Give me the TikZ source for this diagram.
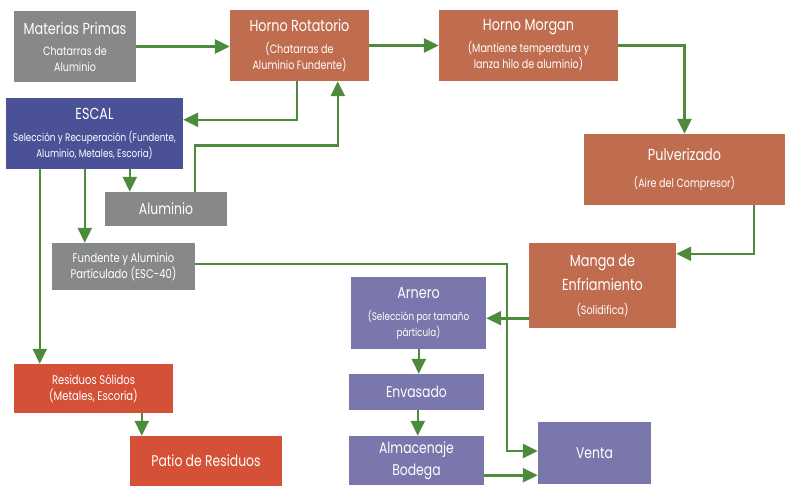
\documentclass[tikz,border=0pt]{standalone}
\usepackage{fontspec}
\setmainfont[FakeStretch=0.8]{Poppins}
\usetikzlibrary{arrows.meta,calc}
\definecolor{cgray}{HTML}{87888A}
\definecolor{corange}{HTML}{C06D4F}
\definecolor{cblue}{HTML}{4A5196}
\definecolor{cpurple}{HTML}{7977AB}
\definecolor{cred}{HTML}{D45138}
\definecolor{cgreen}{HTML}{4E8A3B}
\newcommand\tsz{\fontsize{16}{16}\selectfont}
\newcommand\bsz{\fontsize{15.5}{16}\selectfont}
\newcommand\ssz{\fontsize{12}{16}\selectfont}
\newcommand\esz{\fontsize{11}{16}\selectfont}
\newcommand\msz{\fontsize{12.5}{16}\selectfont}
\tikzset{
  box/.style={rectangle, inner sep=0pt, text=white, align=center, fill=#1,
    font=\fontsize{12}{16}\selectfont},
  arr/.style={draw=cgreen, line width=2.6pt, -{Triangle[length=15pt,width=14pt]}},
}
\begin{document}
\begin{tikzpicture}[x=1pt,y=-1pt]
\path[use as bounding box, fill=white] (0,0) rectangle (798,495);
% nodes
\node[box=cgray, minimum width=122pt, minimum height=71pt] (mp) at (75,46.5)
  {{\tsz Materias Primas}\\[5pt]{\ssz Chatarras de}\\{\ssz Aluminio}};
\node[box=corange, minimum width=139pt, minimum height=71pt] (hr) at (299.5,45.5)
  {{\tsz Horno Rotatorio}\\[6pt]{\ssz (Chatarras de}\\{\ssz Aluminio Fundente)}};
\node[box=corange, minimum width=179pt, minimum height=71pt] (hm) at (528.5,45.5)
  {{\tsz Horno Morgan}\\[6pt]{\ssz (Mantiene temperatura y}\\{\ssz lanza hilo de aluminio)}};
\node[box=corange, minimum width=201pt, minimum height=71pt] (pu) at (684.5,169.5)
  {{\tsz Pulverizado}\\[11pt]{\ssz (Aire del Compresor)}};
\node[box=cblue, minimum width=177pt, minimum height=71pt] (es) at (94.5,133.5)
  {{\tsz ESCAL}\\[6pt]{\esz Selección y Recuperación (Fundente,}\\{\esz Aluminio, Metales, Escoria)}};
\node[box=cgray, minimum width=122pt, minimum height=34pt] (al) at (166,209)
  {\bsz Aluminio};
\node[box=cgray, minimum width=143pt, minimum height=47pt] (fu) at (123.5,266.5)
  {{\msz Fundente y Aluminio}\\{\msz Partículado (ESC-40)}};
\node[box=cred, minimum width=159pt, minimum height=49pt] (rs) at (93.5,388.5)
  {{\msz Residuos Sólidos}\\{\msz (Metales, Escoria)}};
\node[box=cred, minimum width=152pt, minimum height=50pt] (pa) at (206,461)
  {\bsz Patio de Residuos};
\node[box=corange, minimum width=147pt, minimum height=85pt] (ma) at (602.5,285.5)
  {{\tsz Manga de}\\[6pt]{\tsz Enfriamiento}\\[8pt]{\ssz (Solidifica)}};
\node[box=cpurple, minimum width=135pt, minimum height=72pt] (ar) at (418.5,313)
  {{\tsz Arnero}\\[6pt]{\esz (Selección por tamaño}\\{\esz párticula)}};
\node[box=cpurple, minimum width=135pt, minimum height=36pt] (en) at (416.5,392)
  {\bsz Envasado};
\node[box=cpurple, minimum width=135pt, minimum height=49pt] (am) at (416.5,460.5)
  {{\bsz Almacenaje}\\[6pt]{\bsz Bodega}};
\node[box=cpurple, minimum width=113pt, minimum height=62pt] (ve) at (594.5,453)
  {\bsz Venta};
% connectors
\draw[arr] (mp.east) -- (mp.east -| hr.west);
\draw[arr] (hr.east) -- (hm.west);
\draw[arr] (hm.east) -| (pu.north);
\draw[arr] ($(pu.south)+(69.5,0)$) |- ($(ma.north east)+(0,11)$);
\draw[arr] ($(hr.south)+(-2.5,0)$) |- ($(es.north east)+(0,22)$);
\draw[arr] ($(al.north west)+(90,0)$) |- ($(hr.south west)+(108,64)$) -- ($(hr.south west)+(108,0)$);
\draw[arr] ($(es.south west)+(124,0)$) -- ($(al.north west)+(25,0)$);
\draw[arr] ($(es.south west)+(79,0)$) -- ($(fu.north west)+(33,0)$);
\draw[arr] ($(es.south west)+(34,0)$) -- ($(rs.north west)+(26,0)$);
\draw[arr] ($(rs.south west)+(128,0)$) -- ($(pa.north west)+(12,0)$);
\draw[arr] ($(fu.north east)+(0,21)$) -| ($(ve.west)+(-31,-2)$) -- ($(ve.west)+(0,-2)$);
\draw[arr] ($(ma.south west)+(0,-10)$) -- ($(ar.south east)+(0,-31)$);
\draw[arr] ($(ar.south west)+(68,0)$) -- ($(en.north west)+(70,0)$);
\draw[arr] ($(en.south west)+(69,0)$) -- ($(am.north west)+(69,0)$);
\draw[arr] ($(am.south east)+(0,-10)$) -- ($(ve.south west)+(0,-9)$);
\end{tikzpicture}
\end{document}
